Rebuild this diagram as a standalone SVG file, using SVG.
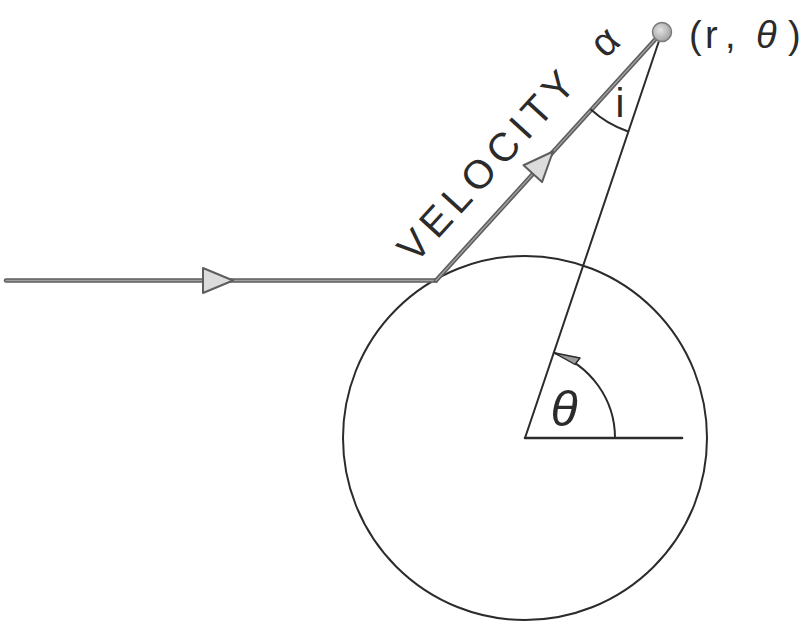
<svg xmlns="http://www.w3.org/2000/svg" width="806" height="624" viewBox="0 0 806 624">
  <style>
    .ink { fill: none; stroke: #2b2b2b; stroke-width: 2; stroke-linecap: round; }
    .thick { fill: none; stroke: #2b2b2b; stroke-width: 2.6; stroke-linecap: round; }
    .path-outer { fill: none; stroke: #5e5e5e; stroke-width: 4.5; stroke-linecap: round; }
    .path-inner { fill: none; stroke: #a0a0a0; stroke-width: 1.4; stroke-linecap: round; }
    .lbl { font-family: "Liberation Sans", Arial, sans-serif; fill: #2b2b2b; }
    .greek { font-family: "Liberation Sans", Arial, sans-serif; fill: #2b2b2b; font-style: italic; }
  </style>
  <defs>
    <radialGradient id="dotfill" cx="0.4" cy="0.4" r="0.7">
      <stop offset="0" stop-color="#e2e2e2"/>
      <stop offset="1" stop-color="#9a9a9a"/>
    </radialGradient>
    <polygon id="flowArrow" points="0,0 -30,-12.5 -30,12.5" fill="#dcdcdc" stroke="#5e5e5e" stroke-width="2" stroke-linejoin="round"/>
  </defs>
  <rect width="806" height="624" fill="#ffffff"/>

  <g id="circle-body">
    <circle cx="525" cy="438" r="182" class="ink"/>
  </g>

  <g id="connectors">
    <!-- incoming trajectory -->
    <line x1="6" y1="280.5" x2="436" y2="280.5" class="path-outer"/>
    <line x1="6" y1="280.5" x2="436" y2="280.5" class="path-inner"/>
    <use href="#flowArrow" transform="translate(233,280.5)"/>
    <!-- velocity direction -->
    <line x1="436" y1="280.5" x2="662" y2="32" class="path-outer"/>
    <line x1="436" y1="280.5" x2="662" y2="32" class="path-inner"/>
    <use href="#flowArrow" transform="translate(553,151.5) rotate(-47.66)"/>
    <!-- radius vector -->
    <line x1="525" y1="438" x2="662" y2="32" class="ink"/>
    <!-- reference axis -->
    <line x1="525" y1="438" x2="682" y2="438" class="thick"/>
    <!-- theta arc with arrow -->
    <path d="M615,438 A90,90 0 0 0 553.8,352.7" class="ink"/>
    <polygon points="553.8,352.7 580,358 575,364.5" fill="#9a9a9a" stroke="#2b2b2b" stroke-width="1.4" stroke-linejoin="round"/>
    <!-- angle i arc -->
    <path d="M591.2,109.8 A105,105 0 0 0 627.5,131.3" class="ink" stroke-width="1.6"/>
  </g>

  <g id="point-r-theta">
    <circle cx="662" cy="32" r="9.5" fill="url(#dotfill)" stroke="#7a7a7a" stroke-width="1.5"/>
    <text class="lbl" font-size="38" y="48"><tspan x="689">(</tspan><tspan x="705">r</tspan><tspan x="725">,</tspan> <tspan x="756" font-style="italic">θ</tspan><tspan x="788">)</tspan></text>
  </g>

  <g id="velocity-label">
    <text class="lbl" font-size="40" textLength="241" lengthAdjust="spacing" transform="translate(415,264.5) rotate(-47.66)" x="0" y="0">VELOCITY</text>
  </g>

  <g id="alpha-label">
    <text class="lbl" font-size="40" text-anchor="middle" transform="translate(607,44) rotate(-42)" x="0" y="10">α</text>
  </g>

  <g id="i-label">
    <text class="lbl" font-size="40" text-anchor="middle" x="620" y="117">i</text>
  </g>

  <g id="theta-label">
    <text class="greek" font-size="50" text-anchor="middle" x="564" y="426">θ</text>
  </g>
</svg>
